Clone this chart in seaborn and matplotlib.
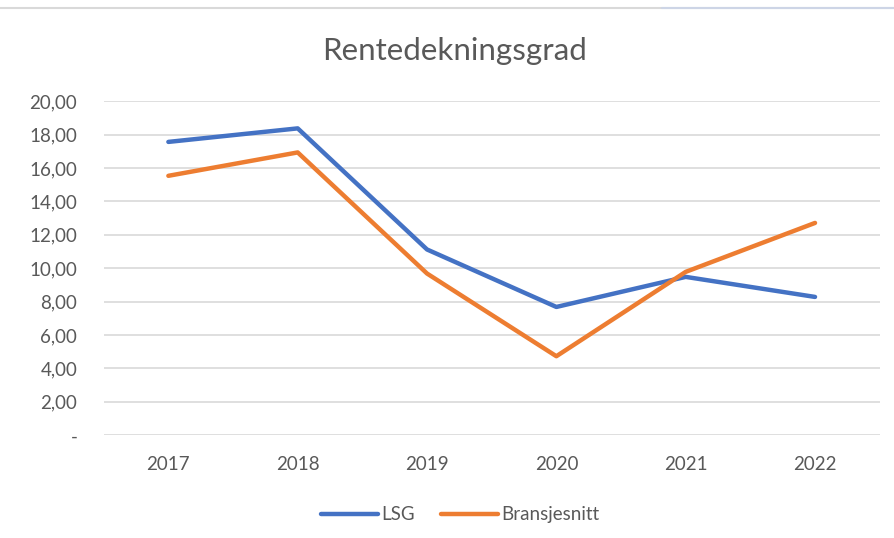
import numpy as np
import pandas as pd
import matplotlib
matplotlib.use("Agg")
import matplotlib.pyplot as plt
import seaborn as sns
from matplotlib.ticker import FuncFormatter, MultipleLocator

years = ["2017", "2018", "2019", "2020", "2021", "2022"]
lsg = [17.56, 18.37, 11.12, 7.68, 9.48, 8.28]
bransjesnitt = [15.53, 16.93, 9.68, 4.73, 9.78, 12.71]
series_names = ["LSG", "Bransjesnitt"]
title = "Rentedekningsgrad"

df = pd.DataFrame({
    "year": years * 2,
    "value": lsg + bransjesnitt,
    "serie": [series_names[0]] * len(years) + [series_names[1]] * len(years),
})

sns.set_style("white")
plt.rcParams["font.family"] = ["Lato", "DejaVu Sans"]
txt = "#595959"

fig = plt.figure(figsize=(8.94, 5.38), dpi=100)
ax = fig.add_axes([0.116, 0.191, 0.868, 0.621])

sns.lineplot(data=df, x="year", y="value", hue="serie", sort=False,
             palette=["#4472C4", "#ED7D31"], linewidth=3.2, ax=ax,
             legend=False)

ax.set_xlim(-0.5, 5.5)
ax.set_ylim(0, 20)
ax.yaxis.set_major_locator(MultipleLocator(2))
ax.yaxis.set_major_formatter(FuncFormatter(
    lambda v, p: "-" if abs(v) < 1e-9 else f"{v:.2f}".replace(".", ",")))
ax.grid(axis="y", color="#D9D9D9", linewidth=1.2)
ax.set_axisbelow(True)
for s in ax.spines.values():
    s.set_visible(False)
ax.tick_params(axis="both", length=0, labelsize=13.5, colors=txt)
ax.tick_params(axis="y", pad=19)
ax.tick_params(axis="x", pad=15)
ax.set_xlabel("")
ax.set_ylabel("")

fig.text(0.509, 0.905, title, ha="center", va="center", fontsize=22.5, color=txt)

handles = [plt.Line2D([], [], color=c, lw=3.2) for c in ["#4472C4", "#ED7D31"]]
fig.legend(handles, series_names, loc="center", bbox_to_anchor=(0.515, 0.043),
           ncol=2, frameon=False, fontsize=13.5, labelcolor=txt,
           handlelength=3.0, handletextpad=0.2, columnspacing=1.4)

# thin frame line at the top, as in the screenshot
fig.add_artist(plt.Line2D([0.0, 1.0], [0.985, 0.985], color="#D9D9D9", lw=1.5))
fig.add_artist(plt.Line2D([0.74, 1.0], [0.985, 0.985], color="#CDD5E6", lw=1.5))

fig.savefig("out.png", dpi=100)
